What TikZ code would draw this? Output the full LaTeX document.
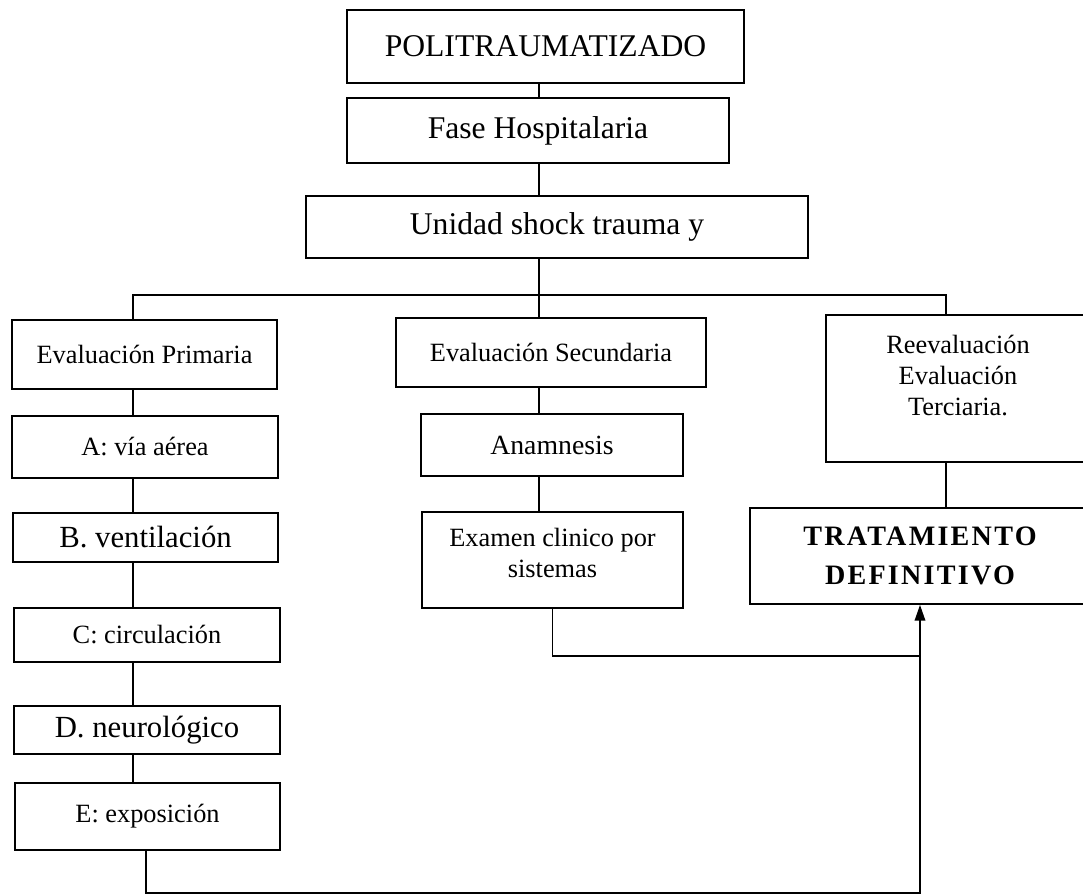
\documentclass[tikz,border=0pt]{standalone}
\usepackage{fontspec}
\setmainfont{Liberation Serif}
\usetikzlibrary{arrows.meta}

\begin{document}
\begin{tikzpicture}[x=0.02cm, y=-0.02cm]
                \useasboundingbox (0,0) rectangle (1083,896);
                \begin{scope}[every node/.style={line width=1pt, draw, rectangle, align=center, inner sep=1pt, font=\fontsize{15}{17.6}\selectfont}]
                        \node[minimum width=7.94cm, minimum height=1.46cm, font=\fontsize{18}{21}\selectfont] (pol) at (545.5,46.5) {POLITRAUMATIZADO};
                        \node[minimum width=7.64cm, minimum height=1.30cm, font=\fontsize{18}{21}\selectfont] (fase) at (538,130.5) {Fase Hospitalaria};
                        \node[minimum width=10.04cm, minimum height=1.24cm, font=\fontsize{18}{21}\selectfont] (unidad) at (557,227) {Unidad shock trauma y};
                        % evaluacion primaria
                        \node[minimum width=5.30cm, minimum height=1.38cm] (evprim) at (144.5,354.5) {Evaluación Primaria};
                        \node[minimum width=5.32cm, minimum height=1.24cm] (avia) at (145,447) {A: vía aérea};
                        \node[minimum width=5.30cm, minimum height=0.98cm, font=\fontsize{17.5}{20}\selectfont] (bvent) at (145.5,537.5) {B. ventilación};
                        \node[minimum width=5.32cm, minimum height=1.08cm] (ccirc) at (147,635) {C: circulación};
                        \node[minimum width=5.32cm, minimum height=0.96cm, font=\fontsize{17.5}{20}\selectfont] (dneuro) at (147,730) {D. neurológico};
                        \node[minimum width=5.30cm, minimum height=1.34cm] (eexpo) at (147.5,816.5) {E: exposición};
                        % evaluacion secundaria
                        \node[minimum width=6.20cm, minimum height=1.38cm] (evsec) at (551,352.5) {Evaluación Secundaria};
                        \node[minimum width=5.24cm, minimum height=1.24cm, font=\fontsize{15.8}{18}\selectfont] (anam) at (552,445) {Anamnesis};
                        \node[minimum width=5.22cm, minimum height=1.92cm, text depth=8pt] (examen) at (552.5,560) {Examen clinico por\\sistemas};
                        % reevaluacion y tratamiento
                        \node[minimum width=5.28cm, minimum height=2.94cm, text depth=15pt] (reeval) at (958,388.5) {Reevaluación\\Evaluación\\Terciaria.};
                        \node[minimum width=6.80cm, minimum height=1.92cm, font=\fontsize{16}{22}\selectfont\bfseries\addfontfeature{LetterSpace=8}] (trat) at (920,556) {TRATAMIENTO\\DEFINITIVO};
                \end{scope}
                \coordinate (trunk) at (539,295);
                \coordinate (busL) at (133,295);
                \coordinate (busR) at (946,295);
                \coordinate (bottom) at (146,893);
                \coordinate (join) at (921,656);
                \begin{scope}[every path/.style={line width=1pt, >={Triangle[length=9pt,width=6pt]}}]
                        \draw (pol.south -| trunk) -- (fase.north -| trunk);
                        \draw (fase.south -| trunk) -- (unidad.north -| trunk);
                        \draw (unidad.south -| trunk) -- (evsec.north -| trunk);
                        \draw (evprim.north -| busL) -- (busL) -- (busR) -- (reeval.north -| busR);
                        \foreach \a/\b in {evprim/avia, avia/bvent, bvent/ccirc, ccirc/dneuro, dneuro/eexpo}
                                \draw (\a.south -| busL) -- (\b.north -| busL);
                        \draw (evsec.south -| trunk) -- (anam.north -| trunk);
                        \draw (anam.south -| trunk) -- (examen.north -| trunk);
                        \draw (reeval.south -| busR) -- (trat.north -| busR);
                        \draw (examen.south) |- (join);
                        \draw[->] (eexpo.south -| bottom) -- (bottom) -| (trat.south);
                \end{scope}
        \end{tikzpicture}
\end{document}
